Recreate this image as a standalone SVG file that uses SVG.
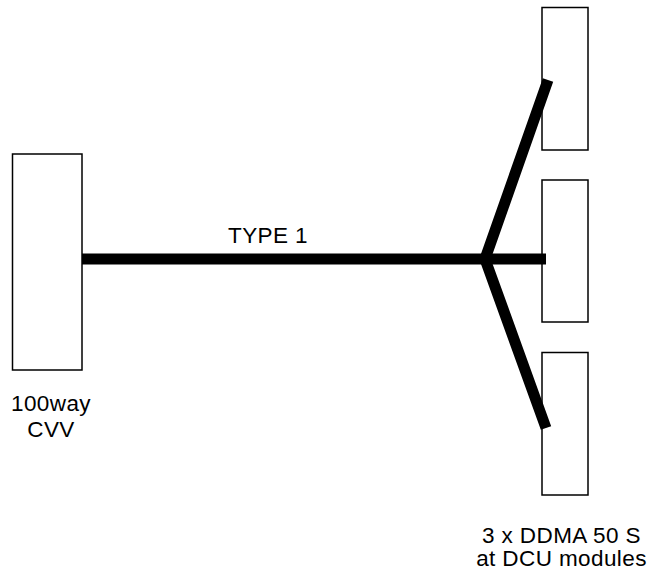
<svg xmlns="http://www.w3.org/2000/svg" width="651" height="577" viewBox="0 0 651 577">
<style>
.box{fill:#fff;stroke:#000;stroke-width:1.5}
.lbl{font-family:"Liberation Sans",Arial,sans-serif;font-size:22.5px;letter-spacing:0.4px;fill:#000;text-anchor:middle}
.wire{stroke:#000;stroke-width:11;fill:none;stroke-linecap:butt}
</style>
<rect width="651" height="577" fill="#fff"/>
<g id="cvv">
<rect class="box" x="12.5" y="154" width="69.5" height="216"/>
<text class="lbl" x="51" y="411">100way</text>
<text class="lbl" x="51" y="437">CVV</text>
</g>
<g id="ddma1"><rect class="box" x="542" y="7.5" width="46" height="142.5"/></g>
<g id="ddma2"><rect class="box" x="542" y="180" width="46" height="142"/></g>
<g id="ddma3"><rect class="box" x="542" y="352.5" width="46" height="142.5"/></g>
<g id="ddma-label">
<text class="lbl" x="561.5" y="543">3 x DDMA 50 S</text>
<text class="lbl" x="561.5" y="566">at DCU modules</text>
</g>
<g id="connectors">
<line class="wire" x1="82" y1="259" x2="546" y2="259"/>
<polyline class="wire" points="548,80 485,259 546,428"/>
<text class="lbl" x="268" y="242.5">TYPE 1</text>
</g>
</svg>
